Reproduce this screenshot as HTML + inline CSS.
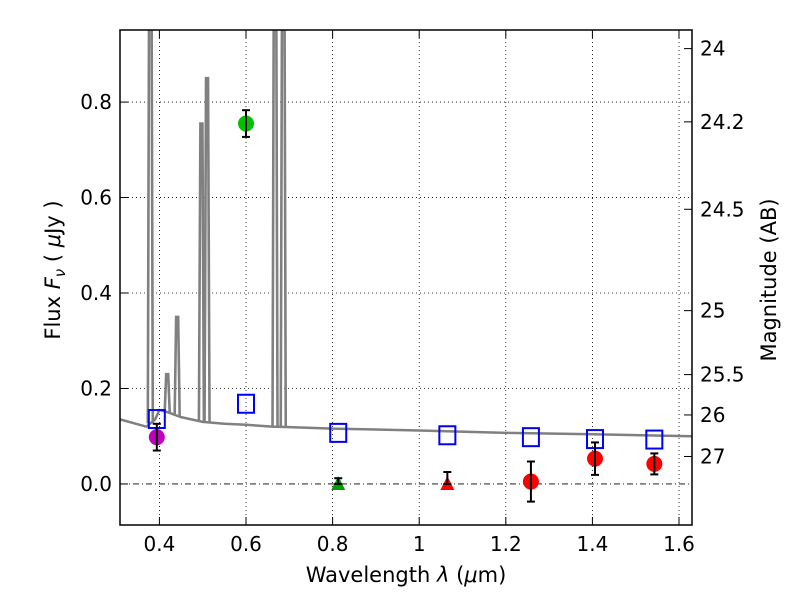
<!DOCTYPE html>
<html><head><meta charset="utf-8"><style>
body{margin:0;background:#fff;}
svg text{font-family:"DejaVu Sans","Liberation Sans",sans-serif;font-size:20px;fill:#000;}
</style></head><body>
<svg id="chart" width="800" height="600" viewBox="0 0 800 600" xmlns="http://www.w3.org/2000/svg"></svg>
<script>
const xTicks=[0.4,0.6,0.8,1.0,1.2,1.4,1.6];
const xTickLabels=["0.4","0.6","0.8","1","1.2","1.4","1.6"];
const yTicks=[0,0.2,0.4,0.6,0.8];
const yTickLabels=["0.0","0.2","0.4","0.6","0.8"];
const magTicks=[24,24.2,24.5,25,25.5,26,27];
const magLabels=["24","24.2","24.5","25","25.5","26","27"];
// model photometry (blue squares)
const modelX=[0.394,0.60,0.813,1.065,1.258,1.406,1.543];
const modelY=[0.136,0.168,0.107,0.102,0.098,0.094,0.093];
// detections (circles)
const detX=[0.394,0.60,1.258,1.406,1.543];
const detY=[0.098,0.755,0.005,0.053,0.042];
const detErr=[0.028,0.028,0.042,0.034,0.022];
const detColor=["#bf00bf","#00c000","#ff0000","#ff0000","#ff0000"];
// upper limits (triangles)
const limX=[0.813,1.065];
const limY=[0,0];
const limErrUp=[0.012,0.025];
const limColor=["#00a000","#ff0000"];
// spectrum continuum
const contX=[0.31,0.37,0.39,0.40,0.42,0.45,0.50,0.55,0.60,0.66,0.70,0.80,0.90,1.00,1.20,1.40,1.63];
const contY=[0.135,0.120,0.135,0.155,0.150,0.140,0.130,0.126,0.124,0.120,0.119,0.116,0.114,0.112,0.107,0.104,0.100];
// emission lines
const lineX=[0.379,0.418,0.441,0.497,0.510,0.667,0.686];
const lineY=[1.2,0.23,0.35,0.755,0.85,1.2,1.2];

const L=120,R=692,T=30,B=525;
const xmin=0.309,xmax=1.630,ymin=-0.086,ymax=0.951;
const sx=v=>L+(v-xmin)/(xmax-xmin)*(R-L);
const sy=v=>B-(v-ymin)/(ymax-ymin)*(B-T);
const NS="http://www.w3.org/2000/svg";
const svg=document.getElementById('chart');
function mk(tag,attrs,parent){const e=document.createElementNS(NS,tag);for(const k in attrs)e.setAttribute(k,attrs[k]);(parent||svg).appendChild(e);return e;}
const clip=mk('clipPath',{id:'pc'});mk('rect',{x:L,y:T,width:R-L,height:B-T},clip);

// grid
xTicks.forEach(v=>{const g=mk('line',{x1:sx(v),x2:sx(v),y1:T,y2:B,stroke:'#000','stroke-width':0.8,'stroke-dasharray':'1,3'});

});
yTicks.forEach(v=>{const g=mk('line',{x1:L,x2:R,y1:sy(v),y2:sy(v),stroke:'#000','stroke-width':0.8,'stroke-dasharray':v===0?'6,3,1,3':'1,3'});

});

// spectrum
const spec=mk('g',{'clip-path':'url(#pc)'});


let d='';contX.forEach((v,i)=>{d+=(i?'L':'M')+sx(v)+','+sy(contY[i]);});
mk('path',{d:d,fill:'none',stroke:'#808080','stroke-width':2.5},spec);
function cont(v){for(let i=1;i<contX.length;i++)if(v<=contX[i]){const t=(v-contX[i-1])/(contX[i]-contX[i-1]);return contY[i-1]+t*(contY[i]-contY[i-1]);}return contY[contY.length-1];}
lineX.forEach((v,i)=>{const x=sx(v),b=sy(cont(v));
const p=mk('path',{d:`M${x-2.5},${b}L${x-1},${sy(lineY[i])}L${x+1},${sy(lineY[i])}L${x+2.5},${b}`,fill:'none',stroke:'#808080','stroke-width':2.6},spec);

});

// model squares
modelX.forEach((v,i)=>{const r=mk('rect',{x:sx(v)-8,y:sy(modelY[i])-9,width:16,height:18,fill:'none',stroke:'#0000ff','stroke-width':2});

});

function errbar(x,y1,y2){mk('line',{x1:x,x2:x,y1:sy(y1),y2:sy(y2),stroke:'#000','stroke-width':2});
mk('line',{x1:x-4,x2:x+4,y1:sy(y1),y2:sy(y1),stroke:'#000','stroke-width':2});
mk('line',{x1:x-4,x2:x+4,y1:sy(y2),y2:sy(y2),stroke:'#000','stroke-width':2});}
// triangles
limX.forEach((v,i)=>{const x=sx(v),y=sy(limY[i]);
const t=mk('path',{d:`M${x},${y-8}L${x+7},${y+6}L${x-7},${y+6}Z`,fill:limColor[i]});


errbar(x,limY[i]+limErrUp[i],limY[i]);});
// circles
detX.forEach((v,i)=>{const c=mk('circle',{cx:sx(v),cy:sy(detY[i]),r:8,fill:detColor[i]});


errbar(sx(v),detY[i]+detErr[i],detY[i]-detErr[i]);});

// frame
const fr=mk('rect',{x:L,y:T,width:R-L,height:B-T,fill:'none',stroke:'#000','stroke-width':1.5});


// x ticks
xTicks.forEach((v,i)=>{const x=sx(v);
mk('line',{x1:x,x2:x,y1:B,y2:B-8,stroke:'#000'});mk('line',{x1:x,x2:x,y1:T,y2:T+8,stroke:'#000'});
const t=mk('text',{x:x,y:B+26,'text-anchor':'middle'});t.textContent=xTickLabels[i];

});
yTicks.forEach((v,i)=>{const y=sy(v);
mk('line',{x1:L,x2:L+8,y1:y,y2:y,stroke:'#000'});
const t=mk('text',{x:L-8,y:y+7,'text-anchor':'end'});t.textContent=yTickLabels[i];

});
magTicks.forEach((m,i)=>{const y=sy(Math.pow(10,(23.9-m)/2.5));
mk('line',{x1:R,x2:R-8,y1:y,y2:y,stroke:'#000'});
const t=mk('text',{x:R+8,y:y+7,'text-anchor':'start'});t.textContent=magLabels[i];

});
</script>
<svg style="position:absolute;left:0;top:0" width="800" height="600">
<text x="406" y="582" text-anchor="middle" style="font-family:'DejaVu Sans',sans-serif;font-size:21px">Wavelength  <tspan font-style="italic">λ</tspan> (<tspan font-style="italic">μ</tspan>m)</text>
<text transform="translate(60,270) rotate(-90)" text-anchor="middle" style="font-family:'DejaVu Sans',sans-serif;font-size:21px">Flux  <tspan font-style="italic">F</tspan><tspan font-style="italic" font-size="15" dy="5">ν</tspan><tspan dy="-5">  ( </tspan><tspan font-style="italic">μ</tspan>Jy )</text>
<text transform="translate(776,280) rotate(-90)" text-anchor="middle" style="font-family:'DejaVu Sans',sans-serif;font-size:21px">Magnitude (AB)</text>
</svg>
</body></html>
